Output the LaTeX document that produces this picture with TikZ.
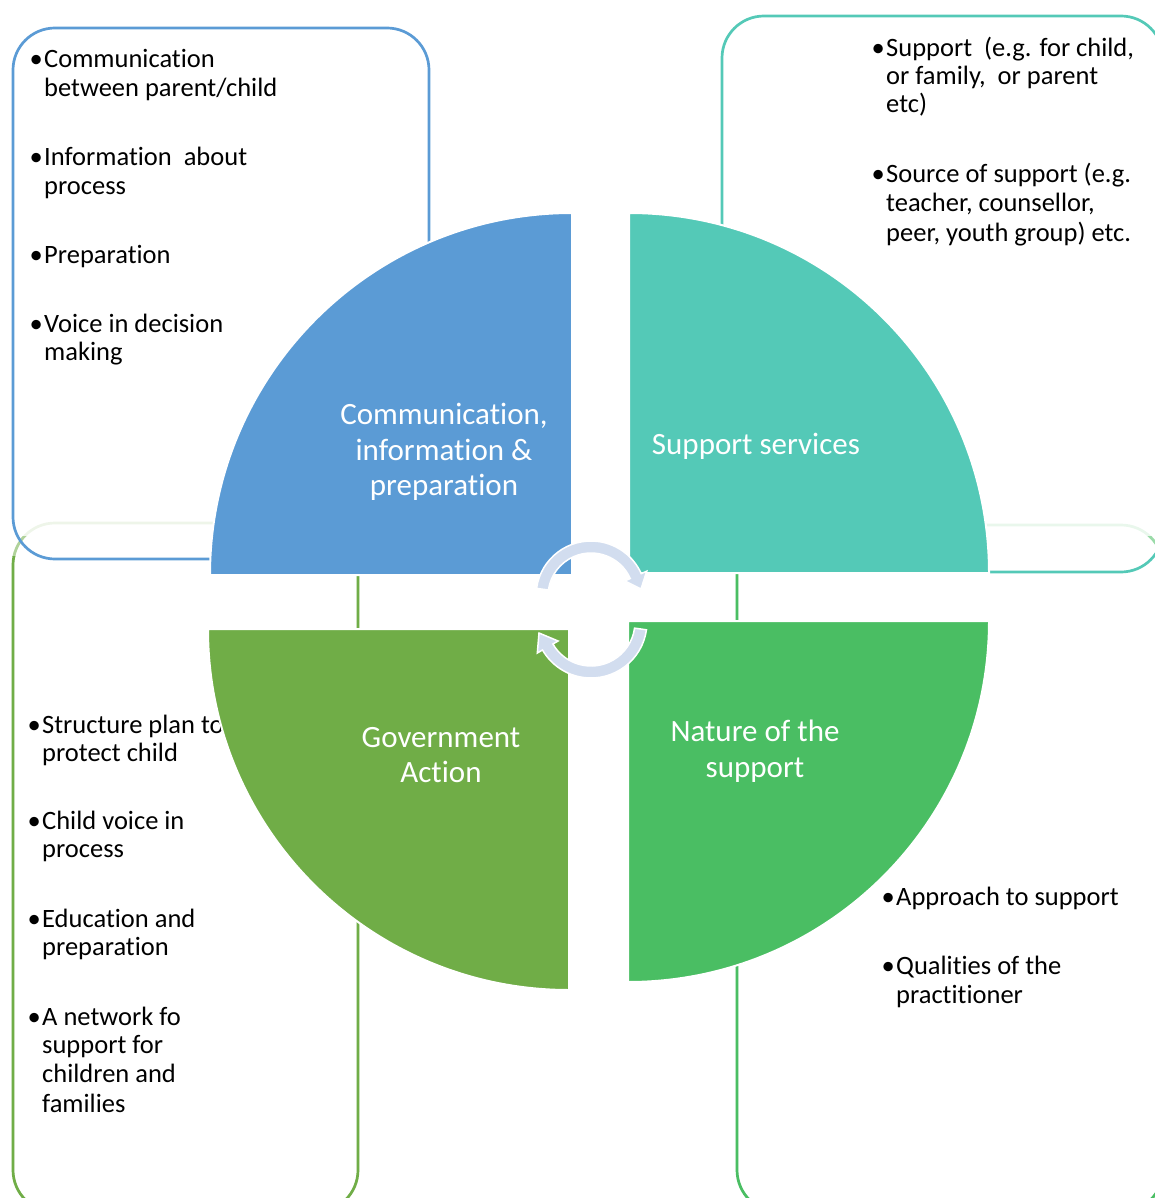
\documentclass[tikz,border=0pt]{standalone}
\usepackage{fontspec}
\setmainfont[Ligatures=NoCommon]{Carlito}
\usetikzlibrary{calc}
\definecolor{commblue}{HTML}{5B9BD5}
\definecolor{supteal}{HTML}{54C9B7}
\definecolor{natgreen}{HTML}{4ABE63}
\definecolor{govgreen}{HTML}{70AD47}
\definecolor{cyclefill}{HTML}{D2DDEF}
\begin{document}
\begin{tikzpicture}[x=1pt,y=-1pt,
  panel/.style={line width=2.7pt, rounded corners=42pt},
  btext/.style={anchor=base west, inner sep=0pt, text=black, font=\fontsize{26.5}{28}\selectfont},
  quadrant/.style={draw=white, line width=2pt},
  qlabel/.style={align=center, text=white, inner sep=0pt, font=\fontsize{31}{35.5}\selectfont},
  cyclearrow/.style={fill=cyclefill, draw=white, line width=1.5pt, line join=miter}]

\useasboundingbox (0,0) rectangle (1155,1198);

% ---- lower panels: outline fades out towards the top ----
\draw[panel, draw=govgreen!12] (13,523) rectangle (358,1212);
\draw[panel, draw=natgreen!12] (737,525) rectangle (1163,1212);
\begin{scope}
  \clip (0,536) rectangle (1155,556);
  \draw[panel, draw=govgreen!55] (13,523) rectangle (358,1212);
  \draw[panel, draw=natgreen!55] (737,525) rectangle (1163,1212);
\end{scope}
\begin{scope}
  \clip (0,556) rectangle (1155,1198);
  \draw[panel, draw=govgreen] (13,523) rectangle (358,1212);
  \draw[panel, draw=natgreen] (737,525) rectangle (1163,1212);
\end{scope}

% ---- upper panels ----
\draw[panel, draw=commblue] (13,28) rectangle (429,559);
\draw[panel, draw=supteal] (722,16) rectangle (1163,572);

% ---- bullet lists ----
\node[btext] (c1a) at (44,68)  {\llap{•\hspace{1.5pt}}Communication};
\node[btext] (c1b) at (44,97)  {between parent/child};
\node[btext] (c2a) at (44,166) {\llap{•\hspace{1.5pt}}Information~~about};
\node[btext] (c2b) at (44,195) {process};
\node[btext] (c3a) at (44,263) {\llap{•\hspace{1.5pt}}Preparation};
\node[btext] (c4a) at (44,332) {\llap{•\hspace{1.5pt}}Voice in decision};
\node[btext] (c4b) at (44,360) {making};

\node[btext] (s1a) at (886,57)  {\llap{•\hspace{1.5pt}}Support~~(e.g. for child,};
\node[btext] (s1b) at (886,85)  {or family,~~or parent};
\node[btext] (s1c) at (886,113) {etc)};
\node[btext] (s2a) at (886,183) {\llap{•\hspace{1.5pt}}Source of support (e.g.};
\node[btext] (s2b) at (886,212) {teacher, counsellor,};
\node[btext] (s2c) at (886,241) {peer, youth group) etc.};

\node[btext] (g1a) at (42,733)  {\llap{•\hspace{1.5pt}}Structure plan to};
\node[btext] (g1b) at (42,761)  {protect child};
\node[btext] (g2a) at (42,829)  {\llap{•\hspace{1.5pt}}Child voice in};
\node[btext] (g2b) at (42,857)  {process};
\node[btext] (g3a) at (42,927)  {\llap{•\hspace{1.5pt}}Education and};
\node[btext] (g3b) at (42,955)  {preparation};
\node[btext] (g4a) at (42,1025) {\llap{•\hspace{1.5pt}}A network fo};
\node[btext] (g4b) at (42,1053) {support for};
\node[btext] (g4c) at (42,1082) {children and};
\node[btext] (g4d) at (42,1112) {families};

\node[btext] (n1a) at (896,905)  {\llap{•\hspace{1.5pt}}Approach to support};
\node[btext] (n2a) at (896,974)  {\llap{•\hspace{1.5pt}}Qualities of the};
\node[btext] (n2b) at (896,1003) {practitioner};

% ---- quadrants ----
\path[quadrant, fill=commblue] (572,575) -- (210,575) arc[start angle=180, end angle=270, radius=362] -- cycle;
\path[quadrant, fill=supteal]  (629,573) -- (629,213) arc[start angle=270, end angle=360, radius=360] -- cycle;
\path[quadrant, fill=natgreen] (628,621) -- (989,621) arc[start angle=0, end angle=90, radius=361] -- cycle;
\path[quadrant, fill=govgreen] (569,629) -- (569,990) arc[start angle=90, end angle=180, radius=361] -- cycle;

\node[qlabel] (comm) at (444,452) {Communication,\\information \&\\preparation};
\node[qlabel] (supp) at (756,446) {Support services};
\node[qlabel] (gov)  at (441,755) {Government\\Action};
\node[qlabel] (nat)  at (755,751) {Nature of the\\support};

% ---- cycle arrows in the middle ----
\coordinate (ct) at (591,596);
\coordinate (cb) at (591,622);
\path[cyclearrow] ($(ct)+(-172:55)$) arc[start angle=-172, end angle=-24, radius=55]
  -- ($(ct)+(-24:61)$) -- (641,589) -- ($(ct)+(-24:37)$) -- ($(ct)+(-24:43)$)
  arc[start angle=-24, end angle=-172, radius=43] -- cycle;
\path[cyclearrow] ($(cb)+(8:56)$) arc[start angle=8, end angle=150, radius=56]
  -- ($(cb)+(150:62)$) -- (539,633) -- ($(cb)+(150:38)$) -- ($(cb)+(150:44)$)
  arc[start angle=150, end angle=8, radius=44] -- cycle;
\end{tikzpicture}
\end{document}
